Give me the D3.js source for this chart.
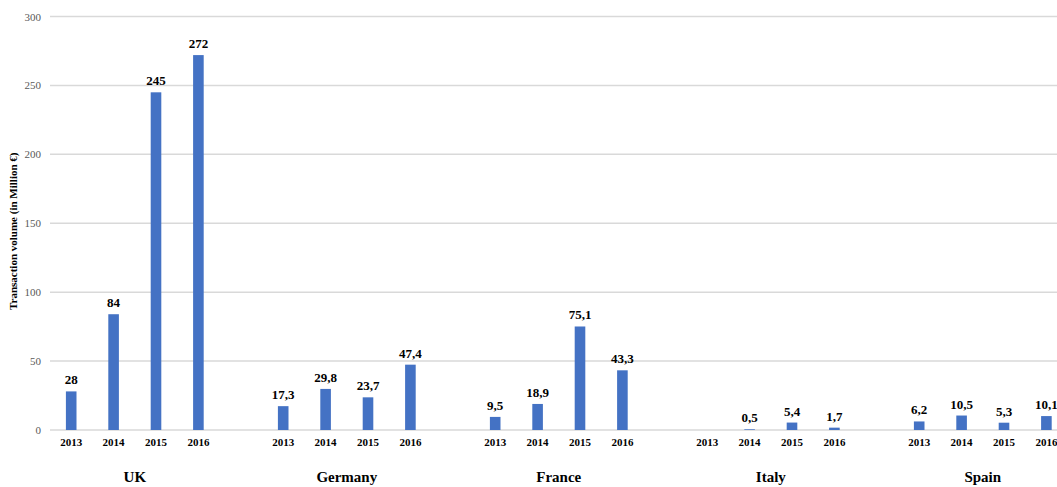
<!DOCTYPE html>
<html>
<head>
<meta charset="utf-8">
<script src="https://cdn.jsdelivr.net/npm/d3@7"></script>
<style>
  html, body { margin: 0; padding: 0; background: #fff; }
  svg { display: block; }
</style>
</head>
<body>
<svg id="chart" width="1057" height="487"></svg>
<script>
// Transaction volume by country and year (million €)
const countries = ["UK", "Germany", "France", "Italy", "Spain"];
const years = ["2013", "2014", "2015", "2016"];
const valuesUK = [28, 84, 245, 272];
const valuesGermany = [17.3, 29.8, 23.7, 47.4];
const valuesFrance = [9.5, 18.9, 75.1, 43.3];
const valuesItaly = [null, 0.5, 5.4, 1.7];
const valuesSpain = [6.2, 10.5, 5.3, 10.1];
const yTicks = [0, 50, 100, 150, 200, 250, 300];
const yTitle = "Transaction volume (in Million €)";

const seriesByCountry = {
  UK: valuesUK, Germany: valuesGermany, France: valuesFrance,
  Italy: valuesItaly, Spain: valuesSpain
};

const W = 1057, H = 487;
const plotLeft = 50, slot = 42.4;
const plotTop = 16.5, plotBottom = 430;
const serif = "'Liberation Serif', 'Times New Roman', serif";
const barColor = "#4472C4";

const svg = d3.select("#chart");

// Each country occupies five slots: four years plus a spacer
const x0 = d3.scaleBand().domain(countries).range([plotLeft, plotLeft + countries.length * 5 * slot]);
const x1 = d3.scaleBand().domain(years).range([0, 4 * slot])
  .paddingInner(0.75).paddingOuter(0.375);
const y = d3.scaleLinear().domain([0, 300]).range([plotBottom, plotTop]);

// Gridlines
svg.append("g")
  .selectAll("line").data(yTicks).join("line")
  .attr("x1", plotLeft).attr("x2", W)
  .attr("y1", d => y(d)).attr("y2", d => y(d))
  .attr("stroke", "#d9d9d9").attr("stroke-width", 1.5);

// Y axis labels
const yAxis = d3.axisLeft(y).tickValues(yTicks).tickSize(0).tickPadding(0);
const yg = svg.append("g").attr("transform", `translate(${plotLeft - 9},0)`).call(yAxis);
yg.select(".domain").remove();
yg.selectAll("text")
  .attr("font-family", serif).attr("font-size", 11).attr("fill", "#595959");

// Y axis title
svg.append("text")
  .attr("transform", `translate(17,${(plotTop + plotBottom) / 2 + 8}) rotate(-90)`)
  .attr("text-anchor", "middle")
  .attr("font-family", serif).attr("font-size", 11).attr("font-weight", "bold")
  .attr("fill", "#000")
  .text(yTitle);

const fmt = v => String(v).replace(".", ",");

countries.forEach(c => {
  const g = svg.append("g").attr("transform", `translate(${x0(c)},0)`);
  const data = years.map((yr, i) => ({ year: yr, value: seriesByCountry[c][i] }));
  const withValue = data.filter(d => d.value != null);

  g.selectAll("rect").data(withValue).join("rect")
    .attr("x", d => x1(d.year))
    .attr("width", x1.bandwidth())
    .attr("y", d => y(d.value))
    .attr("height", d => y(0) - y(d.value))
    .attr("fill", barColor);

  g.selectAll("text.val").data(withValue).join("text")
    .attr("class", "val")
    .attr("x", d => x1(d.year) + x1.bandwidth() / 2)
    .attr("y", d => y(d.value) - 7)
    .attr("text-anchor", "middle")
    .attr("font-family", serif).attr("font-size", 13).attr("font-weight", "bold")
    .attr("fill", "#000")
    .text(d => fmt(d.value));

  // Year axis
  const xa = d3.axisBottom(x1).tickSize(0).tickPadding(0);
  const xg = g.append("g").attr("transform", `translate(0,${plotBottom + 8})`).call(xa);
  xg.select(".domain").remove();
  xg.selectAll("text")
    .attr("font-family", serif).attr("font-size", 11).attr("font-weight", "bold")
    .attr("fill", "#000");

  // Country label
  g.append("text")
    .attr("x", 2 * slot)
    .attr("y", 482)
    .attr("text-anchor", "middle")
    .attr("font-family", serif).attr("font-size", 15).attr("font-weight", "bold")
    .attr("fill", "#000")
    .text(c);
});
</script>
</body>
</html>
